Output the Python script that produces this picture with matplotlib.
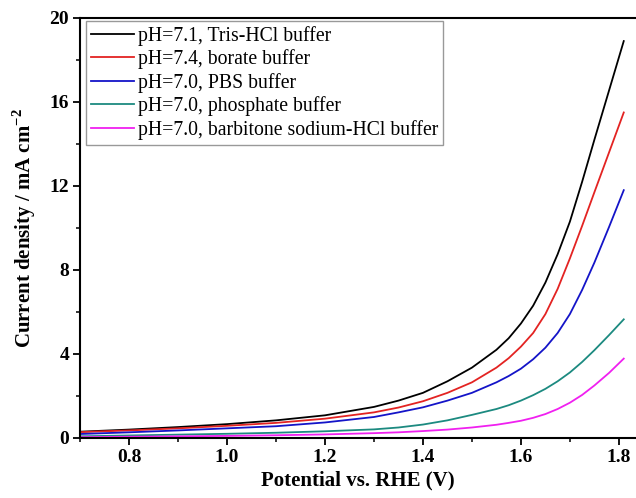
import numpy as np
import matplotlib
matplotlib.use("Agg")
import matplotlib.pyplot as plt
from matplotlib.ticker import MultipleLocator

plt.rcParams['font.family'] = ['Liberation Serif', 'DejaVu Serif']
plt.rcParams['mathtext.fontset'] = 'custom'
plt.rcParams['mathtext.rm'] = 'Liberation Serif'
plt.rcParams['mathtext.bf'] = 'Liberation Serif:bold'

# potential (V vs RHE) and current density (mA cm-2) for each buffer
potential = [0.70, 0.80, 0.90, 1.00, 1.10, 1.20, 1.30, 1.35, 1.40, 1.45, 1.50,
             1.55, 1.575, 1.60, 1.625, 1.65, 1.675, 1.70, 1.725, 1.75, 1.78, 1.81]
tris_hcl = [0.30, 0.40, 0.52, 0.66, 0.84, 1.08, 1.48, 1.78, 2.15, 2.70, 3.35,
            4.20, 4.75, 5.45, 6.30, 7.40, 8.75, 10.3, 12.2, 14.2, 16.55, 18.9]
borate = [0.28, 0.36, 0.46, 0.58, 0.72, 0.92, 1.22, 1.45, 1.75, 2.15, 2.65,
          3.35, 3.80, 4.35, 5.00, 5.90, 7.10, 8.55, 10.1, 11.7, 13.6, 15.5]
pbs = [0.19, 0.27, 0.36, 0.46, 0.56, 0.74, 1.00, 1.22, 1.46, 1.78, 2.15,
       2.65, 2.95, 3.30, 3.75, 4.30, 5.00, 5.90, 7.05, 8.35, 10.05, 11.8]
phosphate = [0.08, 0.12, 0.16, 0.20, 0.25, 0.32, 0.41, 0.50, 0.64, 0.84, 1.10,
             1.38, 1.56, 1.78, 2.04, 2.34, 2.70, 3.12, 3.62, 4.18, 4.90, 5.65]
barbitone = [0.04, 0.06, 0.08, 0.10, 0.13, 0.17, 0.23, 0.27, 0.33, 0.40, 0.50,
             0.63, 0.72, 0.82, 0.96, 1.14, 1.38, 1.68, 2.05, 2.50, 3.10, 3.78]

labels = ['pH=7.1, Tris-HCl buffer', 'pH=7.4, borate buffer',
          'pH=7.0, PBS buffer', 'pH=7.0, phosphate buffer',
          'pH=7.0, barbitone sodium-HCl buffer']
colors = ['#000000', '#e32322', '#1414c8', '#1c8a80', '#f020f0']

fig = plt.figure(figsize=(6.36, 4.98), dpi=100)
ax = fig.add_axes([0.126, 0.1205, 0.874, 0.8434])

for y, lab, c in zip([tris_hcl, borate, pbs, phosphate, barbitone], labels, colors):
    ax.plot(potential, y, color=c, lw=1.3, label=lab)

ax.set_xlim(0.7, 1.835)
ax.set_ylim(0, 20)
ax.xaxis.set_minor_locator(MultipleLocator(0.1))
ax.yaxis.set_major_locator(MultipleLocator(4))
ax.yaxis.set_minor_locator(MultipleLocator(2))
ax.set_xticks([0.8, 1.0, 1.2, 1.4, 1.6, 1.8])
ax.set_xticklabels(['0.8', '1.0', '1.2', '1.4', '1.6', '1.8'])

for s in ['left', 'bottom', 'top']:
    ax.spines[s].set_linewidth(1.5)
ax.spines['right'].set_visible(False)
ax.tick_params(which='major', direction='out', length=5, width=1.3,
               labelsize=14, pad=3, top=False, right=False)
ax.tick_params(which='minor', direction='out', length=3, width=1.1,
               top=False, right=False)
for t in ax.get_xticklabels() + ax.get_yticklabels():
    t.set_fontweight('bold')

ax.set_xlabel('Potential vs. RHE (V)', fontsize=15, fontweight='bold', labelpad=3)
ax.set_ylabel(r'Current density / mA cm$^{\mathbf{-2}}$', fontsize=15,
              fontweight='bold', labelpad=8)

leg = ax.legend(loc='upper left', bbox_to_anchor=(0.011, 0.993), borderaxespad=0,
                fontsize=14.2, frameon=True, fancybox=False, handlelength=2.15,
                handletextpad=0.2, labelspacing=0.18, borderpad=0.25)
leg.get_frame().set_edgecolor('#808080')
leg.get_frame().set_linewidth(1.0)

fig.savefig('out.png', dpi=100)
